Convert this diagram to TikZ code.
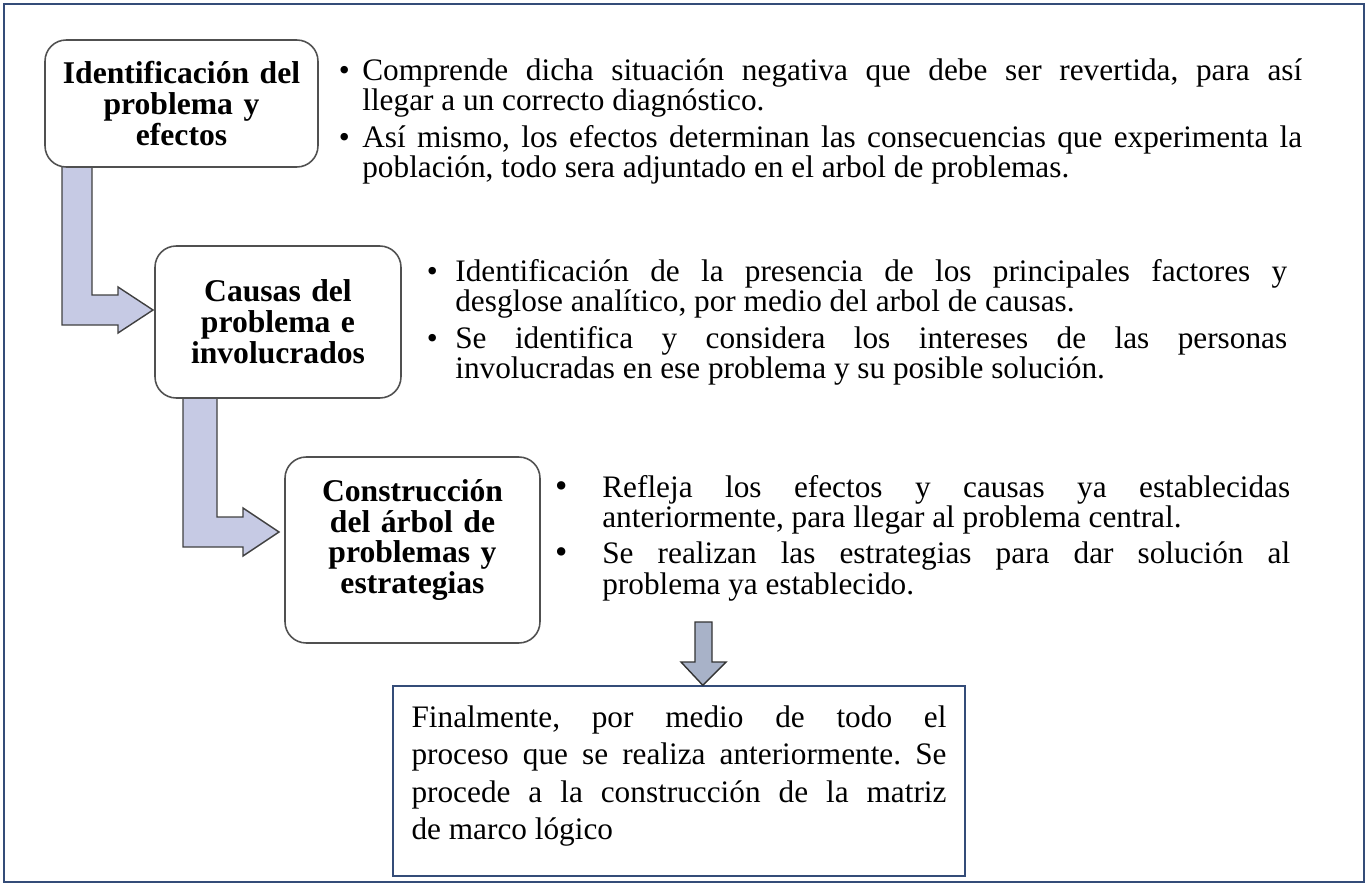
\documentclass[tikz,border=0pt]{standalone}
\usepackage{fontspec}
\setmainfont{Liberation Serif}
\usepackage{enumitem}
\usetikzlibrary{calc}

\definecolor{framecol}{RGB}{52,76,120}
\definecolor{arrowfill}{RGB}{198,202,228}
\definecolor{downfill}{RGB}{168,178,200}
\definecolor{boxline}{RGB}{80,80,80}

\tikzset{
  stepbox/.style={draw=boxline, line width=0.9pt, rounded corners=12pt, align=center,
    inner sep=0pt, font=\fontsize{18}{17.6}\selectfont\bfseries},
  bullets/.style={anchor=north west, inner sep=0pt, align=justify,
    font=\fontsize{17.8}{15.9}\selectfont\frenchspacing},
  bendarrow/.style={draw=black!75, line width=0.8pt, fill=arrowfill},
  finalbox/.style={draw=framecol, line width=0.8pt, inner sep=0pt, align=justify,
    font=\fontsize{17.8}{21.3}\selectfont\frenchspacing}
}

\begin{document}
\begin{tikzpicture}[x=0.02cm, y=-0.02cm]
\useasboundingbox (0,0) rectangle (1368,885);
%outer frame
\draw[framecol, line width=1.1pt] (4,4) rectangle (1364,882);

%bent arrows between the steps
\draw[bendarrow] (62,160) -- (92,160) -- (92,295) -- (118,295) -- (118,287) -- (153,310) -- (118,333) -- (118,325) -- (62,325) -- cycle;
\draw[bendarrow] (183,392) -- (217,392) -- (217,517) -- (243,517) -- (243,508) -- (279,532) -- (243,556) -- (243,547) -- (183,547) -- cycle;

%steps
\node[stepbox, fill=white, minimum width=5.46cm, minimum height=2.54cm, text width=5.3cm] (ident) at (181.5,103.5)
  {Identificación del\\problema y\\efectos};
\node[stepbox, fill=white, minimum width=4.92cm, minimum height=3.04cm, text width=4.7cm] (causas) at (278,322)
  {Causas del\\problema e\\involucrados};
\node[stepbox, fill=white, minimum width=5.1cm, minimum height=3.72cm, text width=4.9cm] (arbol) at (412.5,550)
  {Construcción\\del árbol de\\problemas y\\estrategias\par\vspace{0.4cm}\nointerlineskip\null};

%descriptions
\node[bullets, text width=19.28cm] (g1) at (338,52) {%
  \begin{itemize}[nosep, leftmargin=0.48cm, labelsep=0.25cm, itemsep=3.5pt, label=\textbullet]
  \item Comprende dicha situación negativa que debe ser revertida, para así\linebreak llegar a un correcto diagnóstico.
  \item Así mismo, los efectos determinan las consecuencias que experimenta la\linebreak población, todo sera adjuntado en el arbol de problemas.
  \end{itemize}};
\node[bullets, text width=17.24cm] (g2) at (425,253) {%
  \begin{itemize}[nosep, leftmargin=0.6cm, labelsep=0.35cm, itemsep=3.5pt, label=\textbullet]
  \item Identificación de la presencia de los principales factores y\linebreak desglose analítico, por medio del arbol de causas.
  \item Se identifica y considera los intereses de las personas\linebreak involucradas en ese problema y su posible solución.
  \end{itemize}};
\node[bullets, text width=14.7cm] (g3) at (555,469) {%
  \begin{itemize}[nosep, leftmargin=0.94cm, labelsep=0.7cm, itemsep=3.5pt, label={\fontsize{20}{20}\selectfont\textbullet}]
  \item Refleja los efectos y causas ya establecidas\linebreak anteriormente, para llegar al problema central.
  \item Se realizan las estrategias para dar solución al\linebreak problema ya establecido.
  \end{itemize}};

%final box
\node[finalbox, minimum width=11.44cm, minimum height=3.8cm, text width=10.7cm] (final) at (679,781)
  {Finalmente, por medio de todo el\linebreak proceso que se realiza anteriormente. Se\linebreak procede a la construcción de la matriz\linebreak de marco lógico\par\vspace{0.2cm}\nointerlineskip\null};

%down arrow
\draw[draw=black!80, line width=0.8pt, fill=downfill] (695,622) -- (712,622) -- (712,662) -- (726,662) -- ($(final.north west)+(310.5,0)$) -- (681,662) -- (695,662) -- cycle;
\end{tikzpicture}
\end{document}
